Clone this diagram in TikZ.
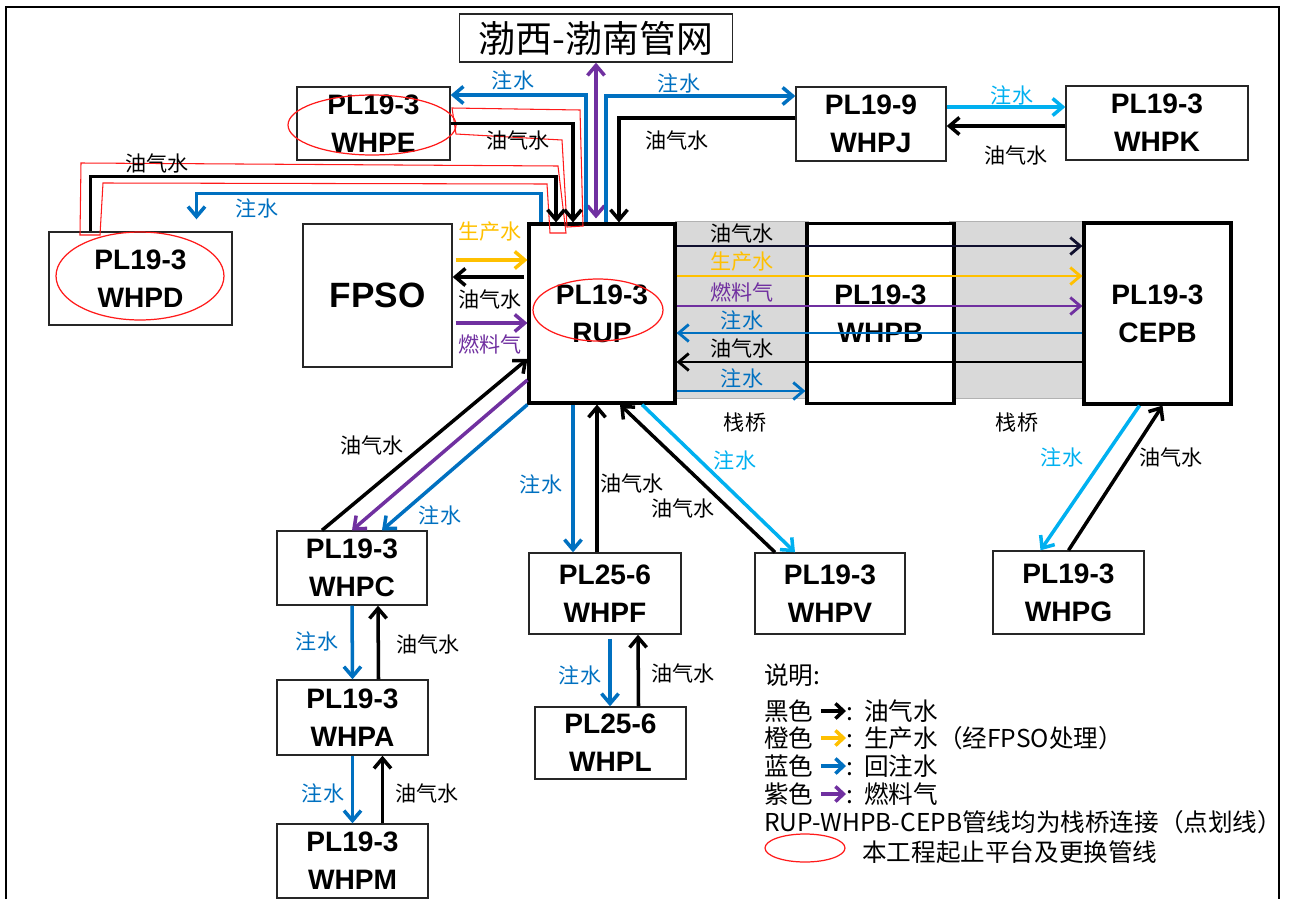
\documentclass[tikz,border=0pt]{standalone}
\usepackage{fontspec}
\setmainfont{Liberation Sans}
\newfontfamily\cjk{Noto Sans CJK SC}
\usetikzlibrary{arrows.meta,positioning,shapes.geometric,calc}
\definecolor{injblue}{HTML}{0070C0}
\definecolor{injcyan}{HTML}{00B0F0}
\definecolor{prodorange}{HTML}{FFC000}
\definecolor{fuelpurple}{HTML}{7030A0}
\definecolor{navy}{HTML}{10102E}
\definecolor{bridgegray}{HTML}{D9D9D9}
\definecolor{ringred}{HTML}{FF1A1A}
\tikzset{
  plat/.style={draw=black!85, line width=0.8pt, fill=white, align=center, inner sep=0pt, font=\fontsize{16}{21.5}\selectfont\bfseries},
  mainplat/.style={plat, draw=black, line width=1.8pt},
  bridge/.style={draw=black!30, line width=0.5pt, fill=bridgegray, inner sep=0pt},
  ring/.style={ellipse, draw=ringred, line width=0.7pt, inner sep=0pt},
  tag/.style={font=\cjk\fontsize{12}{14}\selectfont, inner sep=0pt},
  injtag/.style={tag, text=injblue},
  cyantag/.style={tag, text=injcyan},
  prodtag/.style={tag, text=prodorange},
  fueltag/.style={tag, text=fuelpurple},
  legtext/.style={font=\cjk\fontsize{14}{16}\selectfont, inner sep=0pt, anchor=west},
  pipe/.style={line width=2pt, -{Straight Barb[length=2mm,width=3.4mm]}},
  oilpipe/.style={pipe, draw=black},
  injpipe/.style={pipe, draw=injblue},
  cyanpipe/.style={pipe, draw=injcyan},
  prodpipe/.style={pipe, draw=prodorange},
  fuelpipe/.style={pipe, draw=fuelpurple},
  legarrow/.style={line width=2pt, -{Straight Barb[length=1.6mm,width=3mm]}},
  redline/.style={line width=0.6pt, draw=ringred}
}
\begin{document}
\begin{tikzpicture}[x=0.02cm, y=-0.02cm]
  \useasboundingbox (0,0) rectangle (1290,899);
  \draw[line width=1.6pt] (6,899) -- (6,7) -- (1279,7) -- (1279,899);

  % trestle bridges RUP - WHPB - CEPB
  \node[bridge, minimum width=2.66cm, minimum height=3.54cm] (bridgea) at (741.5,309.5) {};
  \node[bridge, minimum width=2.66cm, minimum height=3.54cm] (bridgeb) at (1016,309.5) {};

  \node[plat, minimum width=5.46cm, minimum height=0.96cm, font=\cjk\fontsize{21}{26}\selectfont] (net) at (596,38) {渤西-渤南管网};
  \node[plat, minimum width=3.06cm, minimum height=1.46cm] (whpe) at (373.5,123.5) {PL19-3\\WHPE};
  \node[plat, minimum width=3.0cm, minimum height=1.48cm] (whpj) at (871,124) {PL19-9\\WHPJ};
  \node[plat, minimum width=3.64cm, minimum height=1.48cm] (whpk) at (1157,123) {PL19-3\\WHPK};
  \node[plat, minimum width=3.66cm, minimum height=1.86cm] (whpd) at (140.5,278.5) {PL19-3\\WHPD};
  \node[plat, minimum width=2.98cm, minimum height=2.86cm, font=\fontsize{20}{24}\selectfont\bfseries] (fpso) at (377.5,295.5) {FPSO};
  \node[mainplat, minimum width=2.92cm, minimum height=3.58cm] (rup) at (602,313.5) {PL19-3\\RUP};
  \node[mainplat, minimum width=2.94cm, minimum height=3.6cm] (whpb) at (880.5,313.5) {PL19-3\\WHPB};
  \node[mainplat, minimum width=2.94cm, minimum height=3.62cm] (cepb) at (1157.5,313.5) {PL19-3\\CEPB};
  \node[plat, minimum width=3.0cm, minimum height=1.48cm] (whpc) at (352,568) {PL19-3\\WHPC};
  \node[plat, minimum width=3.04cm, minimum height=1.62cm] (whpf) at (605,593.5) {PL25-6\\WHPF};
  \node[plat, minimum width=3.0cm, minimum height=1.62cm] (whpv) at (830,593.5) {PL19-3\\WHPV};
  \node[plat, minimum width=3.02cm, minimum height=1.66cm] (whpg) at (1068.5,592.5) {PL19-3\\WHPG};
  \node[plat, minimum width=3.02cm, minimum height=1.5cm] (whpa) at (352.5,717.5) {PL19-3\\WHPA};
  \node[plat, minimum width=3.02cm, minimum height=1.44cm] (whpl) at (610.5,743) {PL25-6\\WHPL};
  \node[plat, minimum width=3.02cm, minimum height=1.48cm] (whpm) at (352.5,861) {PL19-3\\WHPM};

  % platforms and pipelines of this project
  \node[ring, minimum width=3.36cm, minimum height=1.2cm] (ringe) at (372,125) {};
  \node[ring, minimum width=3.36cm, minimum height=1.76cm] (ringd) at (140,276) {};
  \node[ring, minimum width=2.6cm, minimum height=1.24cm] (ringr) at (598,310) {};
  \draw[redline] (452,108) -- (580,110) -- (583,226) -- (567,227) -- (562,140) -- (456,134) -- cycle;
  \draw[redline] (81,163) -- (558,166) -- (566,233) -- (550,233) -- (547,184) -- (103,183) -- (100,235) -- (80,235) -- cycle;

  % lines to the north
  \draw[fuelpipe, {Straight Barb[length=2mm,width=3.4mm]}-{Straight Barb[length=2mm,width=3.4mm]}] ($(rup.north)+(-6,-4)$) -- (net.south);
  \draw[injpipe] ($(rup.north)+(-16,0)$) |- ($(whpe.east)+(0,-28.5)$);
  \draw[injpipe] ($(rup.north)+(4,0)$) |- ($(whpj.west)+(0,-28)$);
  \draw[oilpipe] ($(whpj.west)+(0,-6)$) -| ($(rup.north)+(17,0)$);
  \draw[oilpipe] (whpe.east) -| ($(rup.north)+(-29,0)$);
  \draw[oilpipe] ($(whpd.north)+(-50,0)$) -- ++(0,-55) -| ($(rup.north)+(-46,0)$);
  \draw[injpipe] ($(rup.north)+(-61,0)$) -- ++(0,-29) -| ($(whpd.north)+(56,-12)$);
  \draw[cyanpipe] ($(whpj.east)+(0,-17)$) -- ($(whpk.west)+(0,-16)$);
  \draw[oilpipe] ($(whpk.west)+(0,3)$) -- ($(whpj.east)+(0,2)$);

  \node[injtag] (tinje) at (513,80) {注水};
  \node[injtag] (tinjj) at (679,83) {注水};
  \node[tag] (toile) at (518,140) {油气水};
  \node[tag] (toilj) at (677,140) {油气水};
  \node[tag] (toild) at (157,163) {油气水};
  \node[injtag] (tinjd) at (257,208) {注水};
  \node[cyantag] (tinjk) at (1012,95) {注水};
  \node[tag] (toilk) at (1016,155) {油气水};

  % FPSO
  \draw[prodpipe] ($(fpso.east)+(3,-35.5)$) -- ($(rup.west)+(0,-53.5)$);
  \draw[oilpipe] ($(rup.west)+(-3,-36.5)$) -- ($(fpso.east)+(0,-18.5)$);
  \draw[fuelpipe] ($(fpso.east)+(3,27.5)$) -- ($(rup.west)+(0,9.5)$);
  \node[prodtag] (tprodf) at (490,232) {生产水};
  \node[tag] (toilf) at (490,299) {油气水};
  \node[fueltag] (tfuelf) at (490,344) {燃料气};

  % along the trestles
  \draw[oilpipe, draw=navy, line width=1.6pt] ($(rup.east)+(0,-67.5)$) -- ($(cepb.west)+(0,-67.5)$);
  \draw[prodpipe, line width=1.6pt] ($(rup.east)+(0,-37.5)$) -- ($(cepb.west)+(0,-37.5)$);
  \draw[fuelpipe, line width=1.6pt] ($(rup.east)+(0,-7.5)$) -- ($(cepb.west)+(0,-7.5)$);
  \draw[injpipe, line width=1.6pt] ($(cepb.west)+(0,19.5)$) -- ($(rup.east)+(0,19.5)$);
  \draw[oilpipe, line width=1.6pt] ($(cepb.west)+(0,48.5)$) -- ($(rup.east)+(0,48.5)$);
  \draw[injpipe, line width=1.6pt] ($(rup.east)+(0,77.5)$) -- ($(whpb.west)+(0,77.5)$);
  \node[tag] (tbr1) at (742,233) {油气水};
  \node[prodtag] (tbr2) at (742,262) {生产水};
  \node[fueltag] (tbr3) at (742,292) {燃料气};
  \node[injtag] (tbr4) at (742,320) {注水};
  \node[tag] (tbr5) at (742,348) {油气水};
  \node[injtag] (tbr6) at (742,378) {注水};
  \node[tag] (tbridgea) at (745,423) {栈桥};
  \node[tag] (tbridgeb) at (1017,423) {栈桥};

  % lines to the south
  \draw[oilpipe] ($(whpc.north)+(-30,0)$) -- ($(rup.west)+(0,45.5)$);
  \draw[fuelpipe] ($(rup.west)+(0,66.5)$) -- (whpc.north);
  \draw[injpipe] (rup.south west) -- ($(whpc.north)+(30,0)$);
  \draw[injpipe] ($(rup.south)+(-29,0)$) -- ($(whpf.north)+(-32,0)$);
  \draw[oilpipe] ($(whpf.north)+(-8,0)$) -- ($(rup.south)+(-5,0)$);
  \draw[oilpipe] ($(whpv.north)+(-55,0)$) -- ($(rup.south)+(18,0)$);
  \draw[cyanpipe] ($(rup.south)+(40,0)$) -- ($(whpv.north)+(-35,0)$);
  \draw[cyanpipe] ($(cepb.south)+(-18,0)$) -- ($(whpg.north)+(-28,0)$);
  \draw[oilpipe] (whpg.north) -- ($(cepb.south)+(5,0)$);
  \draw[injpipe] (whpc.south) -- (whpa.north);
  \draw[oilpipe] ($(whpa.north)+(26,0)$) -- ($(whpc.south)+(26,0)$);
  \draw[injpipe] (whpa.south) -- (whpm.north);
  \draw[oilpipe] ($(whpm.north)+(30,0)$) -- ($(whpa.south)+(30,0)$);
  \draw[injpipe] ($(whpf.south)+(5,4)$) -- ($(whpl.north)+(-0.5,0)$);
  \draw[oilpipe] ($(whpl.north)+(28,0)$) -- ($(whpf.south)+(33,0)$);

  \node[tag] (toilc) at (372,445) {油气水};
  \node[injtag] (tinjc) at (440,515) {注水};
  \node[injtag] (tinjf) at (541,484) {注水};
  \node[tag] (toilf2) at (632,483) {油气水};
  \node[cyantag] (tinjv) at (735,460) {注水};
  \node[tag] (toilv) at (683,508) {油气水};
  \node[cyantag] (tinjg) at (1062,457) {注水};
  \node[tag] (toilg) at (1171,457) {油气水};
  \node[injtag] (tinja) at (317,641) {注水};
  \node[tag] (toila) at (428,644) {油气水};
  \node[injtag] (tinjm) at (323,793) {注水};
  \node[tag] (toilm) at (427,793) {油气水};
  \node[injtag] (tinjl) at (580,675) {注水};
  \node[tag] (toill) at (683,673) {油气水};

  % legend
  \node[legtext] (lgtitle) at (764,675) {说明:};
  \node[legtext] (lgblack) at (764,711) {黑色};
  \node[legtext] (lgoil) at (846,711) {:\ \ 油气水};
  \node[legtext] (lgorange) at (764,738) {橙色};
  \node[legtext] (lgprod) at (846,738) {:\ \ 生产水（经FPSO处理）};
  \node[legtext] (lgblue) at (764,766) {蓝色};
  \node[legtext] (lginj) at (846,766) {:\ \ 回注水};
  \node[legtext] (lgpurple) at (764,794) {紫色};
  \node[legtext] (lgfuel) at (846,794) {:\ \ 燃料气};
  \draw[legarrow, draw=black] ($(lgblack.east)+(7,0)$) -- (lgoil.west);
  \draw[legarrow, draw=prodorange] ($(lgorange.east)+(7,0)$) -- (lgprod.west);
  \draw[legarrow, draw=injblue] ($(lgblue.east)+(7,0)$) -- (lginj.west);
  \draw[legarrow, draw=fuelpurple] ($(lgpurple.east)+(7,0)$) -- (lgfuel.west);
  \node[legtext] (lgbridge) at (764,822) {RUP-WHPB-CEPB管线均为栈桥连接（点划线）};
  \node[ring, minimum width=1.6cm, minimum height=0.56cm] (lgring) at (805,848) {};
  \node[legtext] (lgscope) at (862,852) {本工程起止平台及更换管线};
\end{tikzpicture}
\end{document}
